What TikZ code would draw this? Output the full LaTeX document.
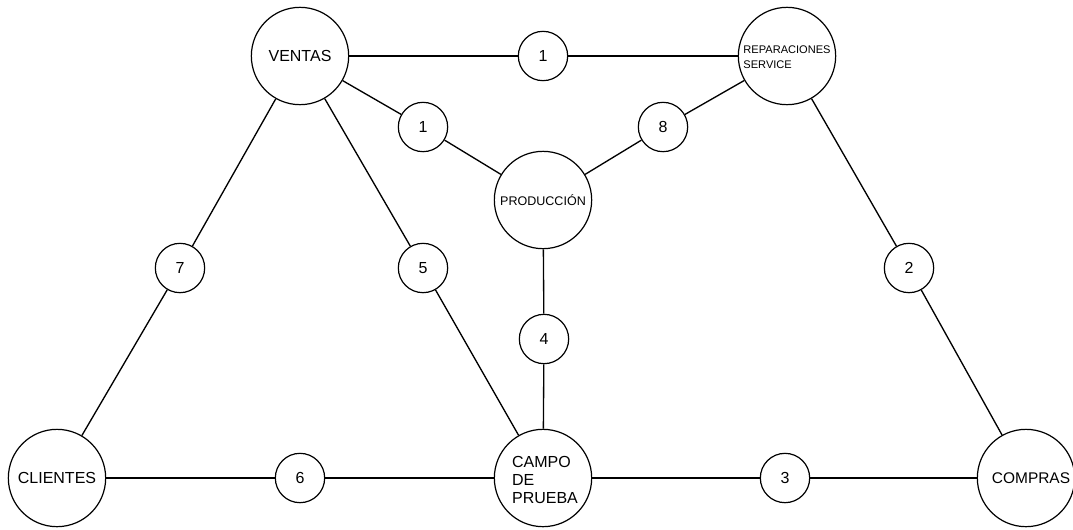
\documentclass[tikz,border=0pt]{standalone}
\usepackage{fontspec}
\setmainfont{Liberation Sans}
\usetikzlibrary{positioning}

\tikzset{
  area/.style={draw, circle, line width=0.9pt, minimum size=73pt, inner sep=0pt, font=\fontsize{12}{13.5}\selectfont},
  peso/.style={draw, circle, line width=0.9pt, minimum size=37pt, inner sep=0pt, font=\fontsize{12}{13.5}\selectfont, fill=white},
  enlace/.style={line width=1pt}
}

\begin{document}
\begin{tikzpicture}[x=0.75pt,y=-0.75pt]
    \useasboundingbox (0,0) rectangle (1073,529);
    % areas
    \node[area] (ventas) at (300,56) {VENTAS};
    \node[area] (reparaciones) at (787,56) {};
    \node[font=\fontsize{8.3}{11}\selectfont, align=left] at (787,57) {REPARACIONES\\SERVICE};
    \node[area] (produccion) at (543,200) {};
    \node[font=\fontsize{9.4}{11}\selectfont] at (543,200) {PRODUCCIÓN};
    \node[area] (clientes) at (57,478) {CLIENTES};
    \node[area] (campo) at (543,478) {};
    \node[font=\fontsize{12}{13.5}\selectfont, align=left] at (545,480) {CAMPO\\DE\\PRUEBA};
    \node[area] (compras) at (1026,478) {};
    \node[font=\fontsize{11.6}{13.5}\selectfont] at (1031,478) {COMPRAS};
    % pesos
    \node[peso] (p1a) at (543,56) {1};
    \node[peso] (p1b) at (423,127) {1};
    \node[peso] (p8) at (663,127) {8};
    \node[peso] (p7) at (180,268) {7};
    \node[peso] (p5) at (423,268) {5};
    \node[peso] (p2) at (909,268) {2};
    \node[peso] (p4) at (544,339) {4};
    \node[peso] (p6) at (300,478) {6};
    \node[peso] (p3) at (785,478) {3};
    % enlaces
    \draw[enlace] (ventas) -- (p1a) -- (reparaciones);
    \draw[enlace] (ventas) -- (p1b) -- (produccion);
    \draw[enlace] (reparaciones) -- (p8) -- (produccion);
    \draw[enlace] (ventas) -- (p7) -- (clientes);
    \draw[enlace] (ventas) -- (p5) -- (campo);
    \draw[enlace] (reparaciones) -- (p2) -- (compras);
    \draw[enlace] (produccion) -- (p4) -- (campo);
    \draw[enlace] (clientes) -- (p6) -- (campo);
    \draw[enlace] (campo) -- (p3) -- (compras);
\end{tikzpicture}
\end{document}
